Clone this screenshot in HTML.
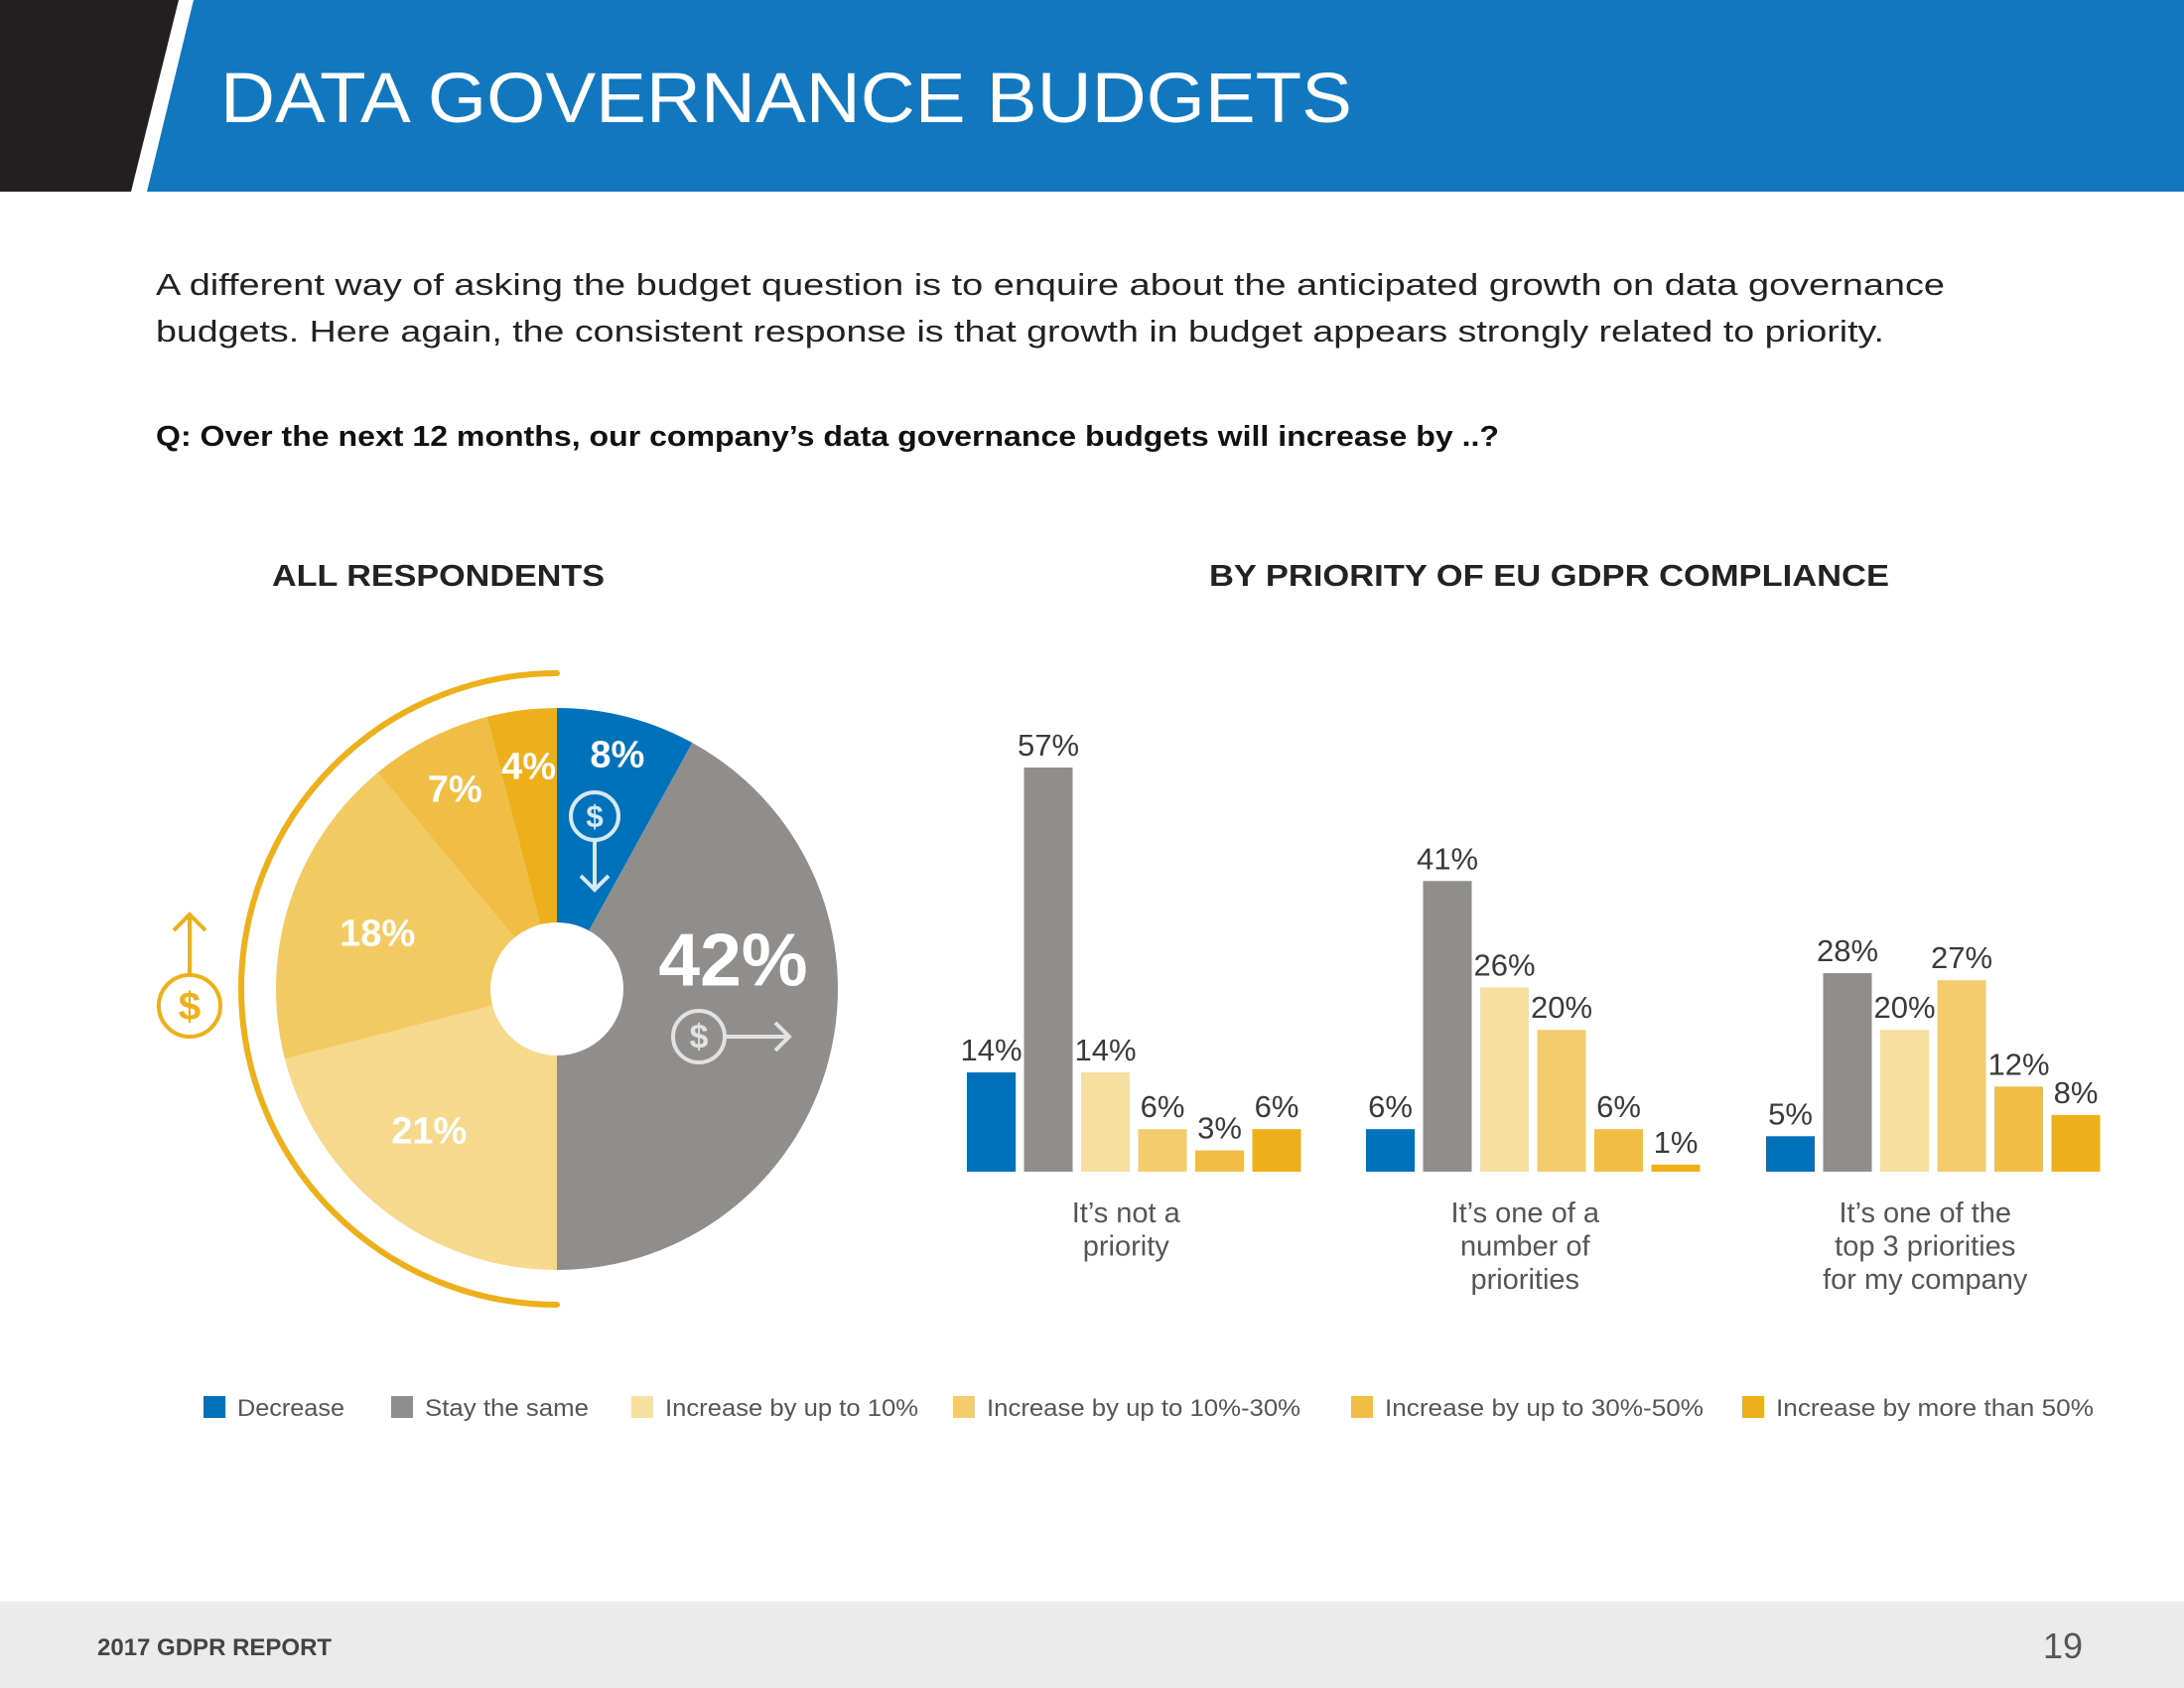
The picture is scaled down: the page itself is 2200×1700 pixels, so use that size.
<!DOCTYPE html>
<html><head><meta charset="utf-8"><style>
html,body{margin:0;padding:0;background:#fff;}
svg{display:block;font-family:"Liberation Sans",sans-serif;}
</style></head><body>
<svg id="page" width="2200" height="1700" viewBox="0 0 2200 1700">
<polygon points="0,0 180,0 132,193 0,193" fill="#231F20"/>
<polygon points="195,0 2200,0 2200,193 148,193" fill="#1177BF"/>
<text x="222" y="123" font-size="71" fill="#fff" textLength="1140" lengthAdjust="spacingAndGlyphs">DATA GOVERNANCE BUDGETS</text>
<text x="157" y="297" font-size="31" fill="#222" textLength="1802" lengthAdjust="spacingAndGlyphs">A different way of asking the budget question is to enquire about the anticipated growth on data governance</text>
<text x="157" y="344" font-size="31" fill="#222" textLength="1741" lengthAdjust="spacingAndGlyphs">budgets. Here again, the consistent response is that growth in budget appears strongly related to priority.</text>
<text x="157" y="449" font-size="29" font-weight="bold" fill="#111" textLength="1353" lengthAdjust="spacingAndGlyphs">Q: Over the next 12 months, our company’s data governance budgets will increase by ..?</text>
<text x="274" y="590" font-size="31" font-weight="bold" fill="#222" textLength="335" lengthAdjust="spacingAndGlyphs">ALL RESPONDENTS</text>
<text x="1218" y="590" font-size="31" font-weight="bold" fill="#222" textLength="685" lengthAdjust="spacingAndGlyphs">BY PRIORITY OF EU GDPR COMPLIANCE</text>
<g id="pie"></g>
<g id="bars"></g>
<g id="legend"></g>
<rect x="0" y="1613" width="2200" height="87" fill="#EBEBEB"/>
<text x="98" y="1667" font-size="24" font-weight="bold" fill="#444">2017 GDPR REPORT</text>
<text x="2098" y="1670" font-size="36" fill="#555" text-anchor="end">19</text>
</svg>
<script>
const NS="http://www.w3.org/2000/svg";
const seriesNames=["Decrease","Stay the same","Increase by up to 10%","Increase by up to 10%-30%","Increase by up to 30%-50%","Increase by more than 50%"];
const seriesColors=["#0072BC","#8F8E8C","#F7DFA0","#F5CC6C","#F0BE45","#EDB01A"];
const pieValues=[8,42,21,18,7,4];
const categories=[["It’s not a","priority"],["It’s one of a","number of","priorities"],["It’s one of the","top 3 priorities","for my company"]];
const notPriority=[14,57,14,6,3,6];
const numberOfPriorities=[6,41,26,20,6,1];
const top3Priorities=[5,28,20,27,12,8];
const groups=[notPriority,numberOfPriorities,top3Priorities];
const legendNames=seriesNames;

function mk(tag,attrs,parent){const e=document.createElementNS(NS,tag);for(const k in attrs)e.setAttribute(k,attrs[k]);parent.appendChild(e);return e;}

// PIE
const pie=document.getElementById('pie');
const cx=561,cy=996,R=283,r0=67;
const total=pieValues.reduce((a,b)=>a+b,0);
const pieColors=["#0072BC","#8F8E8C","#F6D98C","#F3C962","#F0BE45","#EDB01A"];
const pieLabelR=[0.78,0.6,0.65,0.72,0.8,0.8];
const pieLabelSize=[38,75,38,38,38,38];
const pieLabelShift=[[6,-23],[13,-72],[-16,-3],[13,6],[0,0],[0,0]];
let ang=0;
function pt(a,rad){return [cx+rad*Math.sin(a),cy-rad*Math.cos(a)];}
pieValues.forEach((v,i)=>{
  const a0=ang/total*2*Math.PI;ang+=v;const a1=ang/total*2*Math.PI;
  const [x0,y0]=pt(a0,R),[x1,y1]=pt(a1,R);
  const p=mk('path',{d:`M${cx},${cy} L${x0},${y0} A${R},${R} 0 ${a1-a0>Math.PI?1:0} 1 ${x1},${y1} Z`,fill:pieColors[i]},pie);
  
  
});
ang=0;
pieValues.forEach((v,i)=>{
  const am=(ang+v/2)/total*2*Math.PI;ang+=v;
  const [lx,ly]=pt(am,R*pieLabelR[i]);
  const off=pieLabelShift[i];
  const t=mk('text',{x:lx+off[0],y:ly+off[1]+pieLabelSize[i]*0.35,'font-size':pieLabelSize[i],'font-weight':'bold',fill:'#fff','text-anchor':'middle'},pie);
  t.textContent=v+'%';
  
  
});
const hole=mk('circle',{cx:cx,cy:cy,r:r0,fill:'#fff'},pie);


const arc=mk('path',{d:`M${cx},${cy-318} A318,318 0 0 0 ${cx},${cy+318}`,fill:'none',stroke:'#EDB01A','stroke-width':6,'stroke-linecap':'round'},pie);


function dollar(x,y,rr,col,name){
  const g=mk('g',{},pie);
  
  
  mk('circle',{cx:x,cy:y,r:rr,fill:'none',stroke:col,'stroke-width':4},g);
  const t=mk('text',{x:x,y:y+rr*0.45,'font-size':rr*1.3,'font-weight':'bold',fill:col,'text-anchor':'middle'},g);
  t.textContent='$';
  return g;
}
let g=dollar(599,822,24,'#D8E8F5','decrease-icon');
mk('path',{d:'M599,846 V896 M585,882 L599,896 L613,882',fill:'none',stroke:'#D8E8F5','stroke-width':4},g);
g=dollar(704,1044,26,'#E2E2E2','same-icon');
mk('path',{d:'M730,1044 H795 M781,1030 L795,1044 L781,1058',fill:'none',stroke:'#E2E2E2','stroke-width':4},g);
g=dollar(191,1013,31,'#EDB01A','increase-icon');
mk('path',{d:'M191,982 V921 M175,937 L191,921 L207,937',fill:'none',stroke:'#EDB01A','stroke-width':4},g);

// BARS
const bars=document.getElementById('bars');
const baseY=1180,perPct=7.14,groupX=[974,1376,1779],pitch=57.5,bw=49;
function yScale(v){return baseY-v*perPct;}
groups.forEach((vals,gi)=>{
  vals.forEach((v,si)=>{
    const x=groupX[gi]+si*pitch;
    const b=mk('rect',{x:x,y:yScale(v),width:bw,height:baseY-yScale(v),fill:seriesColors[si]},bars);
    
    
    const t=mk('text',{x:x+bw/2,y:yScale(v)-12,'font-size':31,fill:'#3a3a3a','text-anchor':'middle'},bars);
    t.textContent=v+'%';
    
    
  });
  const cxg=groupX[gi]+(5*pitch+bw)/2;
  categories[gi].forEach((line,li)=>{
    const t=mk('text',{x:cxg-8,y:1231+li*33.5,'font-size':29,fill:'#555','text-anchor':'middle'},bars);
    t.textContent=line;
    
    
  });
});

// LEGEND
const legend=document.getElementById('legend');
const legSqX=[205,394,636,960,1361,1755];
const legTextW=[108,165,255,316,321,320];
legendNames.forEach((n,i)=>{
  const s=mk('rect',{x:legSqX[i],y:1406,width:22,height:22,fill:seriesColors[i]},legend);
  
  
  const t=mk('text',{x:legSqX[i]+34,y:1426,'font-size':24,fill:'#555',textLength:legTextW[i],lengthAdjust:'spacingAndGlyphs'},legend);
  t.textContent=n;
  
  
});
</script>
</body></html>
